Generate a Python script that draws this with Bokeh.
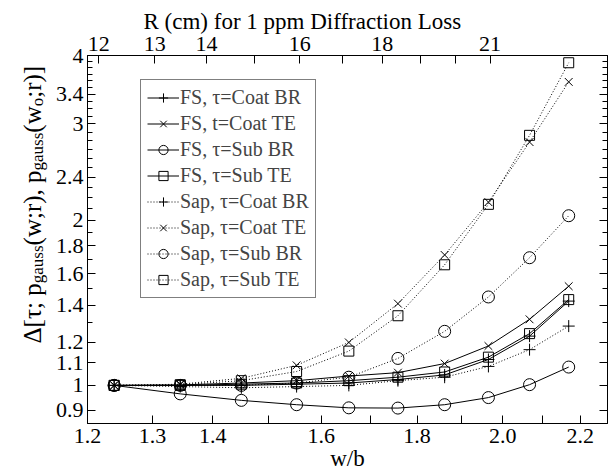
import math
from bokeh.plotting import figure
from bokeh.layouts import row
from bokeh.models import (Range1d, LogScale, LogAxis, FixedTicker, Legend, LegendItem, Label, Title)
from bokeh.embed import file_html
from bokeh.resources import INLINE

# ---------------- data ----------------
wb = [1.24, 1.345, 1.45, 1.552, 1.655, 1.758, 1.862, 1.965, 2.067, 2.169]

fs_coat_br = [1.0, 1.0, 1.0, 1.005, 1.01, 1.025, 1.045, 1.115, 1.23, 1.425]
fs_coat_te = [1.0, 1.002, 1.01, 1.02, 1.04, 1.055, 1.096, 1.18, 1.32, 1.517]
fs_sub_br = [1.0, 0.965, 0.939, 0.922, 0.91, 0.909, 0.922, 0.95, 1.003, 1.08]
fs_sub_te = [1.0, 1.0, 1.005, 1.01, 1.02, 1.035, 1.058, 1.126, 1.243, 1.434]
sap_coat_br = [1.0, 0.995, 0.99, 0.995, 1.0, 1.02, 1.035, 1.083, 1.162, 1.283]
sap_coat_te = [1.0, 1.005, 1.03, 1.088, 1.198, 1.41, 1.73, 2.16, 2.78, 3.58]
sap_sub_br = [1.0, 1.0, 1.0, 1.01, 1.035, 1.12, 1.255, 1.45, 1.71, 2.04]
sap_sub_te = [1.0, 1.003, 1.02, 1.06, 1.155, 1.34, 1.66, 2.14, 2.86, 3.88]

series_labels = ["FS, \u03c4=Coat BR", "FS, t=Coat TE", "FS, \u03c4=Sub BR", "FS, \u03c4=Sub TE",
                 "Sap, \u03c4=Coat BR", "Sap, \u03c4=Coat TE", "Sap, \u03c4=Sub BR", "Sap, \u03c4=Sub TE"]

x_ticks = [1.2, 1.3, 1.4, 1.5, 1.6, 1.7, 1.8, 1.9, 2.0, 2.1, 2.2]
x_tick_labels = ["1.2", "1.3", "1.4", "", "1.6", "", "1.8", "", "2.0", "", "2.2"]

y_ticks = [0.9, 1.0, 1.1, 1.2, 1.4, 1.6, 1.8, 2.0, 2.4, 3.0, 3.4, 4.0]
y_tick_labels = ["0.9", "1", "1.1", "1.2", "1.4", "1.6", "1.8", "2", "2.4", "3", "3.4", "4"]
y_minor = [1.3, 1.5, 1.7, 1.9, 2.1, 2.2, 2.3, 2.5, 2.6, 2.7, 2.8, 2.9,
           3.1, 3.2, 3.3, 3.5, 3.6, 3.7, 3.8, 3.9]

r_ticks = [12, 13, 14, 15, 16, 17, 18, 19, 20, 21]
r_tick_labels = ["12", "13", "14", "", "16", "", "18", "", "", "21"]

x_title = "w/b"
top_title = "R (cm) for 1 ppm Diffraction Loss"
y_title_pieces = [("\u0394[\u03c4; p", False), ("gauss", True), ("(w;r), p", False),
                  ("gauss", True), ("(w", False), ("o", True), (";r)]", False)]

# ---------------- style ----------------
FONT = "Liberation Serif"
TICK_SIZE = "22px"
TITLE_SIZE = "23px"
LEFT_W = 48

p = figure(width=608 - LEFT_W, height=474, output_backend="svg", toolbar_location=None,
           x_axis_type="log", y_axis_type="log",
           x_range=Range1d(1.2, 2.275), y_range=Range1d(0.852, 4.0),
           extra_x_ranges={"R": Range1d(11.81, 24.84)},
           extra_x_scales={"R": LogScale()},
           min_border_left=87 - LEFT_W, min_border_right=1, min_border_top=55,
           min_border_bottom=51)
p.xgrid.visible = False
p.ygrid.visible = False
p.outline_line_color = "black"
p.outline_line_width = 1
p.background_fill_color = "white"
p.border_fill_color = "white"
p.title = Title(text=top_title, align="left", offset=56, standoff=0,
                text_font=FONT, text_font_size=TITLE_SIZE, text_font_style="normal",
                text_color="black")


def style_axis(ax, ticks, labels, minor=None):
    ax.ticker = FixedTicker(ticks=ticks, minor_ticks=minor or [])
    ax.major_label_overrides = {t: l for t, l in zip(ticks, labels)}
    ax.major_tick_in = 8
    ax.major_tick_out = 0
    ax.minor_tick_in = 5
    ax.minor_tick_out = 0
    ax.axis_line_color = "black"
    ax.major_tick_line_color = "black"
    ax.minor_tick_line_color = "black"
    ax.major_label_text_font = FONT
    ax.major_label_text_font_size = TICK_SIZE
    ax.major_label_text_color = "black"
    ax.axis_label_text_font = FONT
    ax.axis_label_text_font_size = TITLE_SIZE
    ax.axis_label_text_font_style = "normal"
    ax.axis_label_text_color = "black"


xa = p.xaxis[0]
style_axis(xa, x_ticks, x_tick_labels)
xa.axis_label = x_title
xa.major_label_standoff = 5
xa.axis_label_standoff = 0

ya = p.yaxis[0]
style_axis(ya, y_ticks, y_tick_labels, y_minor)
ya.major_label_standoff = 4
ya.axis_label = None

top = LogAxis(x_range_name="R")
style_axis(top, r_ticks, r_tick_labels)
top.major_label_standoff = 5
p.add_layout(top, "above")

right = LogAxis()
style_axis(right, y_ticks, ["" for _ in y_ticks], y_minor)
right.major_label_standoff = 0
right.major_label_text_font_size = "0px"
p.add_layout(right, "right")

# ---------------- series ----------------
all_series = [fs_coat_br, fs_coat_te, fs_sub_br, fs_sub_te,
              sap_coat_br, sap_coat_te, sap_sub_br, sap_sub_te]
markers = ["cross", "x", "circle", "square", "cross", "x", "circle", "square"]
sizes = [12, 11, 12, 10, 12, 11, 12, 10]
dashes = ["solid"] * 4 + ["1 2"] * 4

items = []
for lab, ys, mk, sz, ds in zip(series_labels, all_series, markers, sizes, dashes):
    ln = p.line(wb, ys, line_color="black", line_width=1, line_dash=ds)
    sc = p.scatter(wb, ys, marker=mk, size=sz, line_color="black", line_width=1,
                   fill_color=None)
    items.append(LegendItem(label=lab, renderers=[ln, sc]))

legend = Legend(items=items, location=(53, 125), orientation="vertical",
                border_line_color="black", border_line_width=1,
                background_fill_color="white", background_fill_alpha=1.0,
                label_text_font=FONT, label_text_font_size="20px",
                glyph_width=32, glyph_height=23, label_height=23, spacing=3,
                padding=6, margin=0, label_standoff=1)
p.add_layout(legend, "center")

# ---------------- y-axis title (separate strip so it is not clipped) ----------------
lf = figure(width=LEFT_W, height=474, output_backend="svg", toolbar_location=None,
            x_range=Range1d(0, 1), y_range=Range1d(0, 1),
            x_axis_location=None, y_axis_location=None,
            min_border=0, min_border_left=0, min_border_right=0,
            min_border_top=0, min_border_bottom=0)
lf.xgrid.visible = False
lf.ygrid.visible = False
lf.outline_line_color = None
lf.background_fill_color = "white"
lf.border_fill_color = "white"

main_size = 25
sub_size = 17
em = {"\u0394": 0.612, "[": 0.333, "]": 0.333, "\u03c4": 0.44, ";": 0.278, " ": 0.25,
      "p": 0.5, "(": 0.333, ")": 0.333, "w": 0.722, "r": 0.333, ",": 0.25,
      "g": 0.5, "a": 0.444, "u": 0.5, "s": 0.389, "o": 0.5}
base_x = 32
pos = 474 - 394
for txt, sub in y_title_pieces:
    fs = sub_size if sub else main_size
    lf.add_layout(Label(x=base_x + (5 if sub else 0), y=pos, x_units="screen", y_units="screen",
                        text=txt, angle=math.pi / 2, text_font=FONT,
                        text_font_size=f"{fs}px", text_color="black",
                        text_align="left", text_baseline="alphabetic"))
    pos += sum(em.get(c, 0.5) for c in txt) * fs

layout = row(lf, p)
open("out.html", "w").write(file_html(layout, INLINE))
